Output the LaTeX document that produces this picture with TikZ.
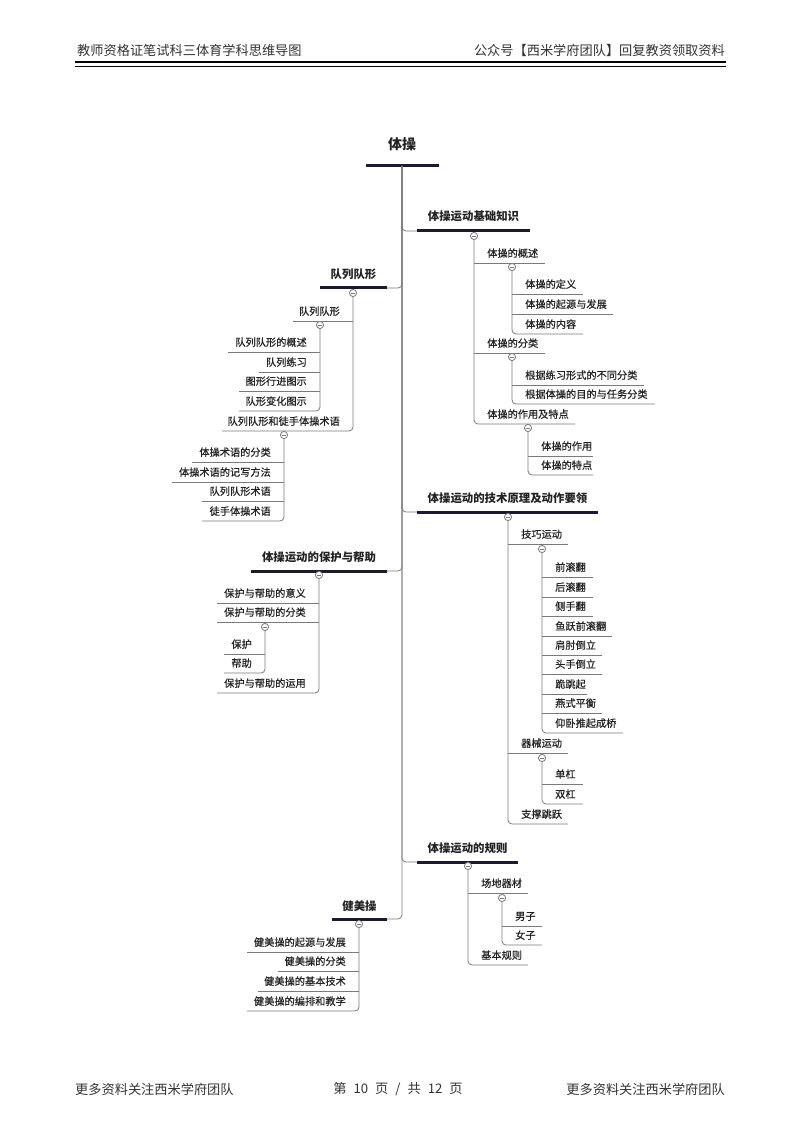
\documentclass[tikz,border=0pt]{standalone}
\usepackage{fontspec}
\setmainfont{Noto Sans CJK SC}
\newfontfamily\lblf[FakeBold=0.5]{Noto Sans CJK SC}
\definecolor{lineg}{HTML}{7A7A7A}
\definecolor{barc}{HTML}{1B1B30}
\definecolor{txtc}{HTML}{222222}
\definecolor{hdrc}{HTML}{333333}
\tikzset{
  conn/.style={draw=lineg, line width=0.8pt, rounded corners=4pt},
  bar/.style={draw=barc, line width=3pt},
  lbl/.style={font=\lblf\fontsize{10.2}{12}\selectfont, text=txtc, inner sep=0pt},
  hd/.style={font=\fontsize{11.4}{13}\selectfont\bfseries, text=txtc, inner sep=0pt, anchor=base},
  rt/.style={font=\fontsize{14}{16}\selectfont\bfseries, text=txtc, inner sep=0pt, anchor=base},
  dotn/.style={circle, draw=lineg, fill=white, line width=0.7pt, minimum size=7pt, inner sep=0pt,
    path picture={\draw[lineg, line width=0.6pt] ([xshift=-2pt]path picture bounding box.center) -- ([xshift=2pt]path picture bounding box.center);}},
  pg/.style={font=\fontsize{13.2}{15}\selectfont, text=hdrc, inner sep=0pt}
}
% right-side leaf: name, vertical x, underline y, end x, text
\newcommand\RL[5]{%
  \node[lbl, anchor=base west] (#1) at (#2+13,#3-6) {#5};
  \coordinate (#1-s) at (#2,#3); \coordinate (#1-e) at (#4,#3);
  \draw[conn] (#1-s) -- (#1-e);}
% right-side last leaf: name, dot name, vertical x, underline y, end x, text
\newcommand\RLL[6]{%
  \node[lbl, anchor=base west] (#1) at (#3+13,#4-6) {#6};
  \coordinate (#1-e) at (#5,#4);
  \draw[conn] (#2.south) |- (#1-e);}
% left-side leaf: name, vertical x, underline y, start x, text
\newcommand\LL[5]{%
  \node[lbl, anchor=base east] (#1) at (#2-13,#3-6) {#5};
  \coordinate (#1-s) at (#4,#3); \coordinate (#1-e) at (#2,#3);
  \draw[conn] (#1-s) -- (#1-e);}
% left-side last leaf: name, dot name, vertical x, underline y, start x, text
\newcommand\LLL[6]{%
  \node[lbl, anchor=base east] (#1) at (#3-13,#4-6) {#6};
  \coordinate (#1-s) at (#5,#4);
  \draw[conn] (#2.south) |- (#1-s);}
\begin{document}
\begin{tikzpicture}[x=1pt,y=-1pt]
\useasboundingbox[fill=white] (0,0) rectangle (800,1131);

% header and footer
\node[pg, anchor=west] (hl) at (77,50) {教师资格证笔试科三体育学科思维导图};
\node[pg, anchor=east] (hr) at (725,50) {公众号【西米学府团队】回复教资领取资料};
\coordinate (h1a) at (75,62); \coordinate (h1b) at (726,62);
\coordinate (h2a) at (75,66.5); \coordinate (h2b) at (726,66.5);
\draw[black, line width=2.6pt] (h1a) -- (h1b);
\draw[black, line width=0.9pt] (h2a) -- (h2b);
\node[pg, anchor=west] (fl) at (75,1089) {更多资料关注西米学府团队};
\node[pg] (fc) at (398,1089) {第\hspace{7pt}10\hspace{7pt}页\hspace{7pt}/\hspace{7pt}共\hspace{7pt}12\hspace{7pt}页};
\node[pg, anchor=east] (fr) at (725,1089) {更多资料关注西米学府团队};

% root
\node[rt] (root) at (402,149.5) {体操};
\coordinate (rb1) at (366,166); \coordinate (rb2) at (439,166);
\draw[bar] (rb1) -- (rb2);
\coordinate (tr) at (402,166);

% ===== H1 体操运动基础知识
\node[hd] (h1) at (473.5,221) {体操运动基础知识};
\coordinate (h1s) at (417,231); \coordinate (h1e) at (530,231);
\draw[conn] (tr) |- (h1s);
\draw[bar] (h1s) -- (h1e);
\node[dotn] (d1) at (474,236) {};
\RL{c11}{474}{263}{545}{体操的概述}
\node[dotn] (d11) at (512,267) {};
\RL{c111}{512}{294}{583}{体操的定义}
\RL{c112}{512}{314}{613}{体操的起源与发展}
\RLL{c113}{d11}{512}{334}{583}{体操的内容}
\RL{c12}{474}{353}{545}{体操的分类}
\node[dotn] (d12) at (512,357) {};
\RL{c121}{512}{385}{644}{根据练习形式的不同分类}
\RLL{c122}{d12}{512}{404}{655}{根据体操的目的与任务分类}
\RLL{c13}{d1}{474}{424}{575}{体操的作用及特点}
\node[dotn] (d13) at (528,428) {};
\RL{c131}{528}{456}{593}{体操的作用}
\RLL{c132}{d13}{528}{475}{593}{体操的特点}
\node[dotn] at (d11) {}; \node[dotn] at (d12) {}; \node[dotn] at (d13) {};

% ===== H2 技术原理
\node[hd] (h2) at (507.5,502.5) {体操运动的技术原理及动作要领};
\coordinate (h2s) at (417,512); \coordinate (h2e) at (598,512);
\draw[conn] (tr) |- (h2s);
\draw[bar] (h2s) -- (h2e);
\node[dotn] (d2) at (508,517) {};
\RL{c21}{508}{544}{568}{技巧运动}
\node[dotn] (d21) at (542,549) {};
\RL{c211}{542}{577}{593}{前滚翻}
\RL{c212}{542}{597}{593}{后滚翻}
\RL{c213}{542}{616}{593}{侧手翻}
\RL{c214}{542}{636}{612}{鱼跃前滚翻}
\RL{c215}{542}{655}{602}{肩肘倒立}
\RL{c216}{542}{674}{602}{头手倒立}
\RL{c217}{542}{694}{587}{跪跳起}
\RL{c218}{542}{713}{602}{燕式平衡}
\RLL{c219}{d21}{542}{733}{623}{仰卧推起成桥}
\RL{c22}{508}{753}{568}{器械运动}
\node[dotn] (d22) at (542,758) {};
\RL{c221}{542}{784}{583}{单杠}
\RLL{c222}{d22}{542}{804}{583}{双杠}
\RLL{c23}{d2}{508}{824}{568}{支撑跳跃}
\node[dotn] at (d21) {}; \node[dotn] at (d22) {};

% ===== H3 规则
\node[hd] (h3) at (467.5,852.5) {体操运动的规则};
\coordinate (h3s) at (417,862); \coordinate (h3e) at (518,862);
\draw[conn] (tr) |- (h3s);
\draw[bar] (h3s) -- (h3e);
\node[dotn] (d3) at (468,866) {};
\RL{c31}{468}{893}{528}{场地器材}
\node[dotn] (d31) at (502,898) {};
\RL{c311}{502}{926}{542}{男子}
\RLL{c312}{d31}{502}{945}{542}{女子}
\RLL{c32}{d3}{468}{965}{528}{基本规则}
\node[dotn] at (d31) {};

% ===== H4 队列队形
\node[hd] (h4) at (353.5,279) {队列队形};
\coordinate (h4s) at (320,288); \coordinate (h4e) at (387,288);
\draw[conn] (tr) |- (h4e);
\draw[bar] (h4s) -- (h4e);
\node[dotn] (d4) at (353,293) {};
\LL{c41}{353}{321}{293}{队列队形}
\node[dotn] (d41) at (320,325) {};
\LL{c411}{320}{352}{228}{队列队形的概述}
\LL{c412}{320}{372}{259}{队列练习}
\LL{c413}{320}{391}{239}{图形行进图示}
\LLL{c414}{d41}{320}{411}{239}{队形变化图示}
\LLL{c42}{d4}{353}{431}{222}{队列队形和徒手体操术语}
\node[dotn] (d42) at (284,435) {};
\LL{c421}{284}{462}{192}{体操术语的分类}
\LL{c422}{284}{482}{172}{体操术语的记写方法}
\LL{c423}{284}{501}{202}{队列队形术语}
\LLL{c424}{d42}{284}{521}{202}{徒手体操术语}
\node[dotn] at (d41) {}; \node[dotn] at (d42) {};

% ===== H5 保护与帮助
\node[hd] (h5) at (319,561) {体操运动的保护与帮助};
\coordinate (h5s) at (251,571); \coordinate (h5e) at (387,571);
\draw[conn] (tr) |- (h5e);
\draw[bar] (h5s) -- (h5e);
\node[dotn] (d5) at (319,575) {};
\LL{c51}{319}{603}{217}{保护与帮助的意义}
\LL{c52}{319}{622}{217}{保护与帮助的分类}
\node[dotn] (d52) at (265,627) {};
\LL{c521}{265}{654}{224}{保护}
\LLL{c522}{d52}{265}{673}{224}{帮助}
\LLL{c53}{d5}{319}{693}{217}{保护与帮助的运用}
\node[dotn] at (d52) {};

% ===== H6 健美操
\node[hd] (h6) at (359.5,910) {健美操};
\coordinate (h6s) at (332,919); \coordinate (h6e) at (387,919);
\draw[conn] (tr) |- (h6e);
\draw[bar] (h6s) -- (h6e);
\node[dotn] (d6) at (359,924) {};
\LL{c61}{359}{952}{247}{健美操的起源与发展}
\LL{c62}{359}{971}{278}{健美操的分类}
\LL{c63}{359}{991}{258}{健美操的基本技术}
\LLL{c64}{d6}{359}{1011}{247}{健美操的编排和教学}

\node[dotn] at (d1) {}; \node[dotn] at (d2) {}; \node[dotn] at (d3) {};
\node[dotn] at (d4) {}; \node[dotn] at (d5) {}; \node[dotn] at (d6) {};
\end{tikzpicture}
\end{document}
